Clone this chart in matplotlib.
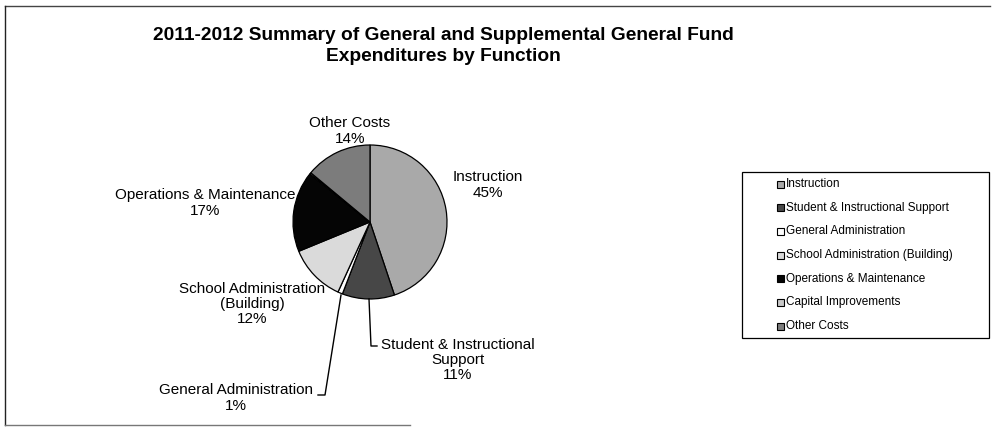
import numpy as np
import matplotlib
matplotlib.use("Agg")
import matplotlib.pyplot as plt
from matplotlib.patches import Rectangle

plt.rcParams['font.family'] = ['Liberation Sans', 'DejaVu Sans']

# slices, clockwise from 12 o'clock
categories = ["Instruction", "Student & Instructional Support", "General Administration",
              "School Administration (Building)", "Operations & Maintenance",
              "Capital Improvements", "Other Costs"]
values = [45, 11, 1, 12, 17, 0.3, 14]
colors = ["#a9a9a9", "#474747", "#ffffff", "#dadada", "#050505", "#c8c8c8", "#7c7c7c"]

# label text as it is wrapped on the chart (None = no label)
label_names = ["Instruction", "Student & Instructional\nSupport", "General Administration",
               "School Administration\n(Building)", "Operations & Maintenance",
               None, "Other Costs"]

W, H = 996, 428


def Y(yp):
    # pixel row (from top) -> data y
    return H - yp


fig = plt.figure(figsize=(W / 100, H / 100), dpi=100)
ax = fig.add_axes([0, 0, 1, 1])

wedges, _ = ax.pie(values, colors=colors, startangle=90, counterclock=False,
                   center=(370, Y(222)), radius=77,
                   wedgeprops=dict(edgecolor="black", linewidth=0.9))
ax.set_xlim(0, W)
ax.set_ylim(0, H)
ax.set_aspect("equal")
ax.axis("off")

total = sum(values)
pcts = [round(v / total * 100) for v in values]

# label positions (pixel centres) as placed on the chart
label_pos = [(488, 185), (458, 360), (236, 398), (252, 304), (205, 203), None, (350, 131)]
for name, pct, pos in zip(label_names, pcts, label_pos):
    if name is None:
        continue
    ax.text(pos[0], Y(pos[1]), f"{name}\n{pct}%", ha="center", va="center",
            fontsize=11, linespacing=1.1)

# leader lines
ax.plot([369, 371, 377], [Y(299), Y(346), Y(346)], color="black", lw=1)
ax.plot([341, 325, 318], [Y(295), Y(395), Y(395)], color="black", lw=1)

ax.text(443, Y(46), "2011-2012 Summary of General and Supplemental General Fund\n"
        "Expenditures by Function", ha="center", va="center",
        fontsize=13.8, fontweight="bold", linespacing=1.35)

# legend
ax.add_patch(Rectangle((742, Y(338)), 247, 166, facecolor="white",
                       edgecolor="black", lw=0.9))
for i, (cat, col) in enumerate(zip(categories, colors)):
    yy = Y(184 + i * 23.7)
    ax.add_patch(Rectangle((777, yy - 3.5), 7, 7, facecolor=col,
                           edgecolor="black", lw=0.8))
    ax.text(786, yy, cat, ha="left", va="center", fontsize=8.5)

# chart frame
ax.plot([5, 990], [Y(6), Y(6)], color="#444444", lw=1)
ax.plot([5, 5], [Y(6), Y(425)], color="#222222", lw=1)
ax.plot([5, 410], [Y(425), Y(425)], color="#777777", lw=1)

fig.savefig("out.png", dpi=100)
